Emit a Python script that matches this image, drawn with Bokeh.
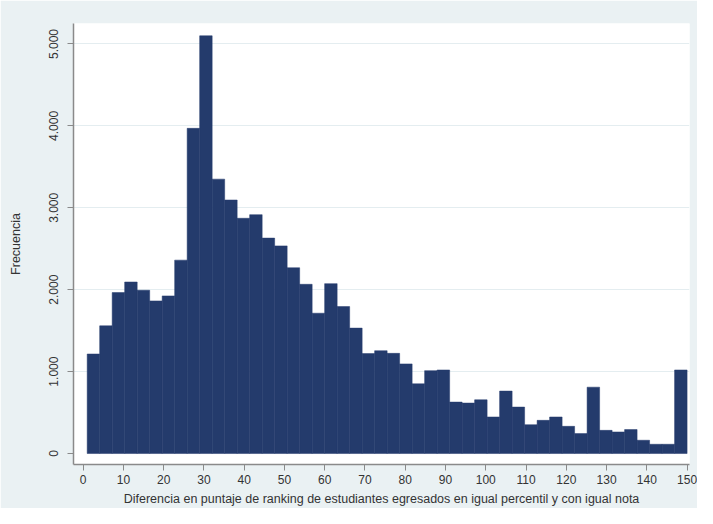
from bokeh.plotting import figure
from bokeh.models import Range1d, FixedTicker, ColumnDataSource
from bokeh.embed import file_html
from bokeh.resources import INLINE

# Histogram data (frequency per bin), bins from 1 to 150
counts = [1215, 1559, 1965, 2094, 1993, 1863, 1924, 2361, 3970, 5100,
          3350, 3095, 2872, 2916, 2630, 2535, 2268, 2066, 1713, 2074,
          1794, 1531, 1220, 1255, 1223, 1094, 851, 1012, 1020, 628,
          616, 656, 446, 762, 567, 352, 405, 446, 332, 243,
          810, 283, 263, 292, 162, 113, 113, 1020]
bin_start = 1.0
bin_end = 150.0

x_ticks = [0, 10, 20, 30, 40, 50, 60, 70, 80, 90, 100, 110, 120, 130, 140, 150]
y_ticks = [0, 1000, 2000, 3000, 4000, 5000]
y_tick_labels = ["0", "1.000", "2.000", "3.000", "4.000", "5.000"]

x_label = "Diferencia en puntaje de ranking de estudiantes egresados en igual percentil y con igual nota"
y_label = "Frecuencia"

n = len(counts)
w = (bin_end - bin_start) / n
lefts = [bin_start + i * w for i in range(n)]
rights = [bin_start + (i + 1) * w for i in range(n)]
src = ColumnDataSource(dict(left=lefts, right=rights, top=counts, bottom=[0] * n))

BG = "#EAF1F3"
p = figure(width=697, height=508, output_backend="svg", toolbar_location=None,
           x_range=Range1d(-2.4, 150.6), y_range=Range1d(-134, 5250),
           min_border_left=73, min_border_top=23, min_border_right=8, min_border_bottom=42)
p.background_fill_color = "white"
p.border_fill_color = BG
p.outline_line_color = None

p.quad(left="left", right="right", top="top", bottom="bottom", source=src,
       fill_color="#243B6C", line_color="#243B6C", line_width=0.5)

p.xgrid.grid_line_color = None
p.ygrid.grid_line_color = "#E4EDF0"
p.ygrid.grid_line_width = 1.2
p.ygrid.ticker = FixedTicker(ticks=y_ticks[1:])

font = "Liberation Sans"
p.xaxis.ticker = FixedTicker(ticks=x_ticks)
p.yaxis.ticker = FixedTicker(ticks=y_ticks)
p.yaxis.major_label_overrides = {t: l for t, l in zip(y_ticks, y_tick_labels)}
p.yaxis.major_label_orientation = "vertical"
for ax in (p.xaxis, p.yaxis):
    ax.axis_line_color = "#8A8A8A"
    ax.axis_line_width = 1.5
    ax.major_tick_line_color = "#8A8A8A"
    ax.major_tick_out = 6
    ax.major_tick_in = 0
    ax.minor_tick_line_color = None
    ax.major_label_text_font = font
    ax.major_label_text_font_size = "12px"
    ax.major_label_text_color = "#333333"
    ax.axis_label_text_font = font
    ax.axis_label_text_font_size = "12.5px"
    ax.axis_label_text_font_style = "normal"
    ax.axis_label_text_color = "#333333"
p.xaxis.major_label_standoff = 4
p.yaxis.major_label_standoff = 9
p.xaxis.axis_label = x_label
p.yaxis.axis_label = y_label
p.xaxis.axis_label_standoff = 5
p.yaxis.axis_label_standoff = 24

open("out.html", "w").write(file_html(p, INLINE))
